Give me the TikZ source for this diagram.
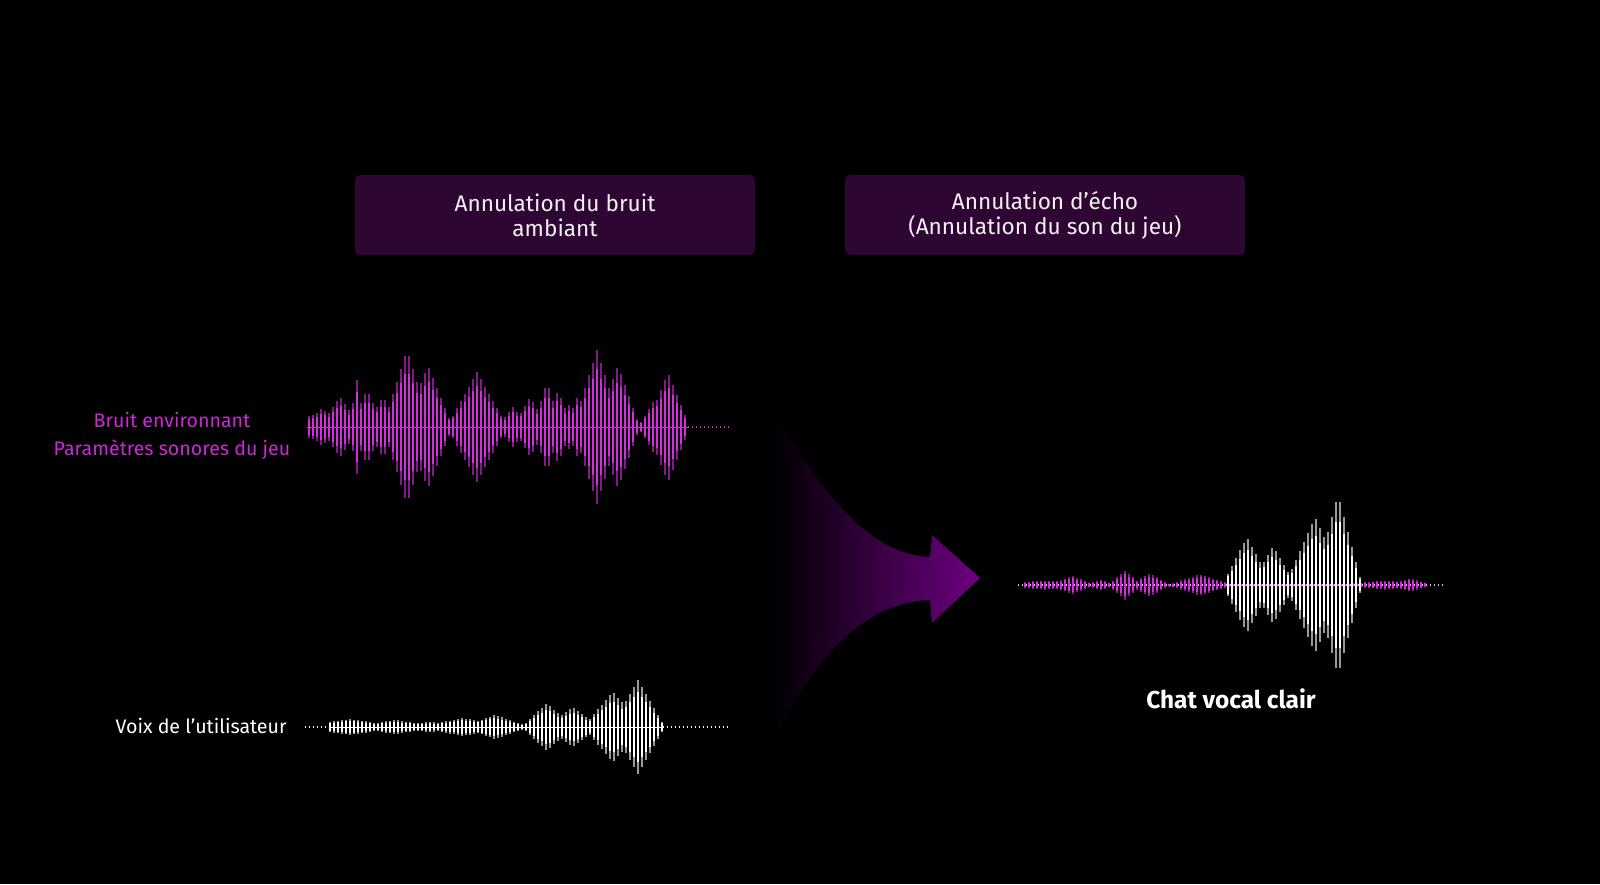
\documentclass[tikz,border=0pt]{standalone}
\usepackage{fontspec}
\setmainfont{Fira Sans}

\definecolor{boxFill}{RGB}{46,6,50}
\definecolor{noiseMagenta}{RGB}{205,40,215}
\definecolor{waveMagenta}{RGB}{215,45,225}
\definecolor{arrowMid}{RGB}{78,10,118}
\definecolor{arrowPurple}{RGB}{110,0,130}
\definecolor{textWhite}{RGB}{245,240,245}

\tikzset{
  taskbox/.style = {fill = boxFill, rounded corners = 3pt, minimum width = 200pt, minimum height = 40pt, align = center, text = textWhite, font = \fontsize{11.3}{12.5}\selectfont},
  sidelabel/.style = {align = center, font = \fontsize{9.8}{13.6}\selectfont},
  wavebar/.style = {line width = 1pt},
  waveglow/.style = {line width = 1pt, opacity = 0.6},
  wavedots/.style = {line width = 0.6pt, dash pattern = on 0.6pt off 1.4pt}
}

\begin{document}
\begin{tikzpicture}[x = 0.5pt, y = -0.5pt,
  declare function = {
    bump(\t,\c,\w,\a) = \a*max(0,1-abs(\t-\c)/(1.3*\w));
    envNoise(\t) = max(bump(\t,312,10,10), bump(\t,322,12,16), bump(\t,340,14,27), bump(\t,357,6,44), bump(\t,367,12,34), bump(\t,383,12,27), bump(\t,407,18,74), bump(\t,428,18,59), bump(\t,477,22,52), bump(\t,513,10,17), bump(\t,530,12,27), bump(\t,547,10,42), bump(\t,558,10,34), bump(\t,568,8,21), bump(\t,577,8,26), bump(\t,597,18,74), bump(\t,618,16,59), bump(\t,653,10,22), bump(\t,668,16,52));
    envVoice(\t) = max(bump(\t,350,30,6), bump(\t,395,25,5), bump(\t,430,20,3), bump(\t,463,28,7), bump(\t,495,22,10), bump(\t,547,18,22), bump(\t,573,18,18), bump(\t,613,22,33), bump(\t,638,20,45));
    envRest(\t) = max(bump(\t,1045,30,3), bump(\t,1072,14,8), bump(\t,1100,8,4), bump(\t,1125,12,13), bump(\t,1150,14,10), bump(\t,1200,22,9), bump(\t,1385,25,3), bump(\t,1410,14,5));
    envClear(\t) = max(bump(\t,1247,18,45), bump(\t,1273,16,36), bump(\t,1315,22,65), bump(\t,1338,18,88));
  }]
    \fill[black] (0,0) rectangle (1600,884);
    \useasboundingbox (0,0) rectangle (1600,884);

    \node[taskbox](boxNoise) at (555,215) {Annulation du bruit\\ambiant};
    \node[taskbox](boxEcho) at (1045,215) {Annulation d’écho\\(Annulation du son du jeu)};

    \node[sidelabel, text = noiseMagenta](lblNoise) at (172,436) {Bruit environnant\\Paramètres sonores du jeu};
    \node[sidelabel, text = white, anchor = east, inner sep = 0pt](lblVoice) at (287,726) {Voix de l’utilisateur};
    \node[align = center, text = white, font = \fontsize{12.2}{14}\selectfont\bfseries](lblChat) at (1231,699) {Chat vocal clair};

    % merging arrow
    \shade[left color = black, middle color = arrowMid, right color = arrowPurple]
      (772,410) .. controls (810,470) and (860,555) .. (930,557) -- (932,535) -- (980,578)
      -- (932,623) -- (930,600) .. controls (860,602) and (810,665) .. (773,743) -- cycle;

    % noise wave
    \draw[waveMagenta, line width = 0.5pt] (307,427) -- (688,427);
    \draw[waveMagenta, wavedots] (688,427) -- (730,427);
    \foreach \x in {309,313,...,688}{
      \pgfmathsetmacro\h{envNoise(\x)+3}
      \draw[waveMagenta, waveglow] (\x,{427-\h}) -- (\x,{427+\h});
      \draw[waveMagenta, wavebar] (\x,{427-0.75*\h}) -- (\x,{427+0.75*\h});
    }

    % voice wave
    \draw[white, wavedots] (305,727) -- (330,727);
    \draw[white, line width = 0.5pt] (330,727) -- (663,727);
    \draw[white, wavedots] (663,727) -- (728,727);
    \foreach \x in {330,334,...,663}{
      \pgfmathsetmacro\h{envVoice(\x)+2}
      \draw[white, waveglow] (\x,{727-\h}) -- (\x,{727+\h});
      \draw[white, wavebar] (\x,{727-0.75*\h}) -- (\x,{727+0.75*\h});
    }

    % clear voice wave
    \draw[waveMagenta!40!white, wavedots] (1018,585) -- (1445,585);
    \foreach \x in {1025,1029,...,1425}{
      \pgfmathsetmacro\h{envRest(\x)+1.5}
      \draw[waveMagenta, waveglow] (\x,{585-\h}) -- (\x,{585+\h});
      \draw[waveMagenta, wavebar] (\x,{585-0.75*\h}) -- (\x,{585+0.75*\h});
    }
    \foreach \x in {1228,1232,...,1362}{
      \pgfmathsetmacro\h{envClear(\x)+3}
      \draw[white, waveglow] (\x,{585-\h}) -- (\x,{585+\h});
      \draw[white, wavebar] (\x,{585-0.75*\h}) -- (\x,{585+0.75*\h});
    }
\end{tikzpicture}
\end{document}
